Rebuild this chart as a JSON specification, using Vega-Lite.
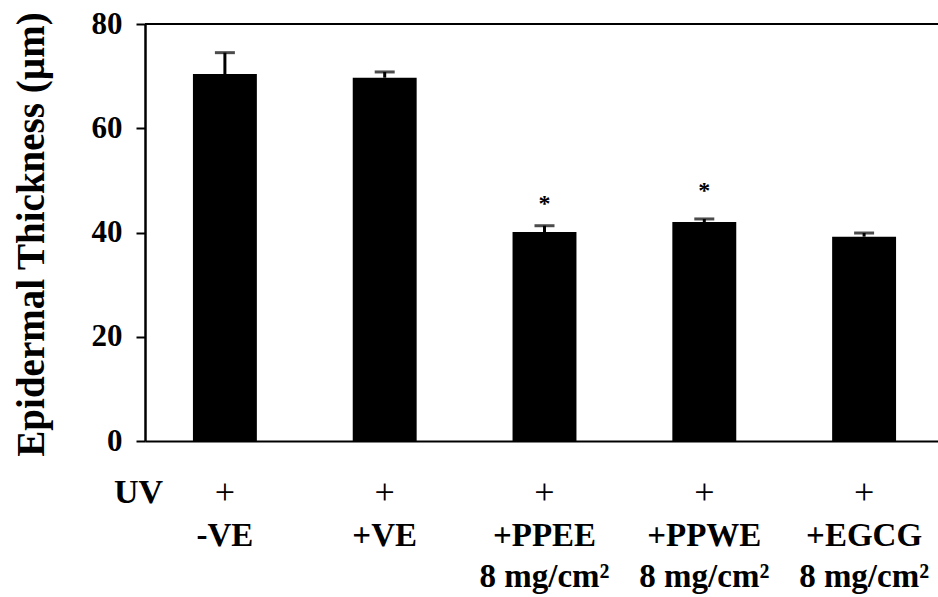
{
  "$schema": "https://vega.github.io/schema/vega-lite/v6.json",
  "width": 793,
  "height": 417,
  "autosize": {"type": "none"},
  "padding": {"left": 145, "top": 24, "right": 0, "bottom": 156},
  "background": "white",
  "config": {
    "view": {"stroke": null},
    "font": "Liberation Serif",
    "axis": {"domainColor": "black", "tickColor": "black", "labelColor": "black", "titleColor": "black", "grid": false}
  },
  "data": {
    "values": [
      {"group": "-VE", "thickness": 70.4, "upper": 74.5, "star": null, "star_y": null},
      {"group": "+VE", "thickness": 69.7, "upper": 70.8, "star": null, "star_y": null},
      {"group": "+PPEE", "thickness": 40.1, "upper": 41.3, "star": "*", "star_y": 45.5},
      {"group": "+PPWE", "thickness": 42.0, "upper": 42.6, "star": "*", "star_y": 48.0},
      {"group": "+EGCG", "thickness": 39.2, "upper": 39.9, "star": null, "star_y": null}
    ]
  },
  "resolve": {"axis": {"x": "independent", "y": "independent"}},
  "layer": [
    {
      "data": {"values": [{"frame": 80}]},
      "mark": {"type": "rule", "color": "black", "strokeWidth": 2},
      "encoding": {
        "y": {"field": "frame", "type": "quantitative", "scale": {"domain": [0, 80]}, "axis": null}
      }
    },
    {
      "mark": {"type": "bar", "color": "black"},
      "encoding": {
        "x": {
          "field": "group", "type": "nominal", "sort": null,
          "scale": {"range": [0, 799], "paddingInner": 0.6, "paddingOuter": 0.3},
          "axis": {
            "orient": "bottom",
            "title": null,
            "domainWidth": 2,
            "ticks": false,
            "tickSize": 0,
            "labelAngle": 0,
            "labelFont": "Liberation Serif",
            "labelFontWeight": "bold",
            "labelFontSize": 33,
            "labelBaseline": "alphabetic",
            "labelPadding": 104,
            "labelLineHeight": 41,
            "labelDx": -5,
            "labelExpr": "indexof(['+PPEE','+PPWE','+EGCG'], datum.value) >= 0 ? [datum.value, '8 mg/cm²'] : datum.value"
          }
        },
        "y": {
          "field": "thickness", "type": "quantitative",
          "scale": {"domain": [0, 80]},
          "axis": {
            "orient": "left",
            "title": "Epidermal Thickness (µm)",
            "titleFont": "Liberation Serif",
            "titleFontWeight": "bold",
            "titleFontSize": 39,
            "titleAngle": -90,
            "titleAlign": "center",
            "titleBaseline": "alphabetic",
            "titleX": -102,
            "titleY": 210,
            "values": [0, 20, 40, 60, 80],
            "tickSize": 9,
            "tickWidth": 2,
            "domainWidth": 2.5,
            "labelFont": "Liberation Serif",
            "labelFontWeight": "bold",
            "labelFontSize": 31,
            "labelPadding": 14,
            "labelBaseline": "middle"
          }
        }
      }
    },
    {
      "mark": {"type": "rule", "color": "black", "strokeWidth": 3},
      "encoding": {
        "x": {"field": "group", "type": "nominal", "sort": null, "axis": null},
        "y": {"field": "thickness", "type": "quantitative", "axis": null},
        "y2": {"field": "upper"}
      }
    },
    {
      "mark": {"type": "tick", "color": "black", "size": 20, "thickness": 3},
      "encoding": {
        "x": {
          "field": "group", "type": "nominal", "sort": null,
          "axis": {
            "orient": "bottom",
            "domain": false,
            "ticks": false,
            "tickSize": 0,
            "labelAngle": 0,
            "labelExpr": "'+'",
            "labelFont": "Liberation Serif",
            "labelFontWeight": "normal",
            "labelFontSize": 36,
            "labelBaseline": "alphabetic",
            "labelPadding": 62,
            "title": "UV",
            "titleFont": "Liberation Serif",
            "titleFontWeight": "bold",
            "titleFontSize": 34,
            "titleAlign": "center",
            "titleBaseline": "alphabetic",
            "titleX": -7,
            "titleY": 61
          }
        },
        "y": {"field": "upper", "type": "quantitative", "axis": null}
      }
    },
    {
      "mark": {"type": "text", "color": "black", "fontSize": 24, "fontWeight": "bold", "baseline": "middle", "font": "Liberation Serif"},
      "encoding": {
        "x": {"field": "group", "type": "nominal", "sort": null, "axis": null},
        "y": {"field": "star_y", "type": "quantitative", "axis": null},
        "text": {"field": "star"}
      }
    }
  ]
}
